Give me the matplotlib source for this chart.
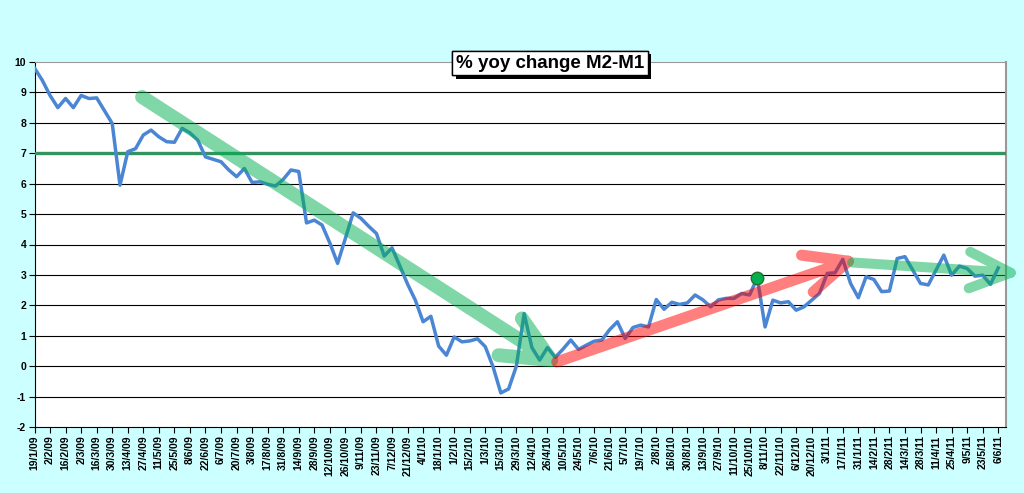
import numpy as np
import pandas as pd
import matplotlib.pyplot as plt
import matplotlib.patheffects as pe

plt.rcParams['font.family'] = ['Liberation Sans', 'DejaVu Sans']
plt.rcParams['axes.unicode_minus'] = False

# weekly % yoy change of M2-M1, from 19/1/09
start_date = '2009-01-19'
values = [9.8, 9.4, 8.9, 8.5, 8.8, 8.5, 8.9, 8.8, 8.82, 8.4,
          7.98, 5.95, 7.05, 7.15, 7.6, 7.76, 7.54, 7.38, 7.36, 7.82,
          7.67, 7.43, 6.88, 6.8, 6.72, 6.45, 6.23, 6.5, 6.04, 6.06,
          5.98, 5.92, 6.14, 6.45, 6.4, 4.71, 4.8, 4.64, 4.05, 3.38,
          4.2, 5.04, 4.86, 4.6, 4.36, 3.62, 3.89, 3.3, 2.7, 2.17,
          1.46, 1.64, 0.66, 0.36, 0.96, 0.8, 0.83, 0.9, 0.64, -0.02,
          -0.88, -0.75, 0.0, 1.73, 0.61, 0.2, 0.61, 0.29, 0.56, 0.86,
          0.55, 0.69, 0.82, 0.86, 1.2, 1.46, 0.91, 1.27, 1.35, 1.29,
          2.19, 1.87, 2.1, 2.03, 2.08, 2.34, 2.18, 1.95, 2.18, 2.23,
          2.23, 2.39, 2.34, 2.9, 1.29, 2.17, 2.08, 2.12, 1.84, 1.95,
          2.17, 2.39, 3.05, 3.07, 3.51, 2.72, 2.25, 2.94, 2.85, 2.45,
          2.47, 3.54, 3.6, 3.16, 2.72, 2.67, 3.16, 3.65, 2.99, 3.29,
          3.21, 2.96, 2.99, 2.69, 3.23]
threshold = 7
marked_week = 93

# trend arrows: tail, tip, two barb ends (week index, value)
arrows = [
    ((13.84, 8.85), (66.47, 0.2), (62.7, 1.57), (59.7, 0.36), '#00b050', 10),
    ((67.2, 0.14), (104.7, 3.45), (98.7, 3.65), (100.2, 2.44), '#ff0000', 8),
    ((105.2, 3.41), (125.6, 3.07), (120.4, 3.76), (120.2, 2.56), '#00b050', 7.2),
]

n = len(values)
x = np.arange(n)
dates = pd.date_range(start_date, periods=n, freq='7D')
tick_pos = x[::2]
tick_labels = [f"{d.day}/{d.month}/{d.strftime('%y')}" for d in dates[::2]]

fig = plt.figure(figsize=(10.24, 4.93), dpi=100, facecolor='#ccffff')
ax = fig.add_axes([34.5 / 1024, 66 / 493, 971.5 / 1024, 365 / 493])
ax.set_facecolor('white')

for yv in range(-1, 10):
    ax.axhline(yv, color='black', lw=0.8, zorder=1)

ax.axhline(threshold, color='#33935f', lw=2.4, zorder=3)
ax.plot(x, values, color='#4a86d4', lw=2.5, zorder=4)

for tail, tip, b1, b2, col, lw in arrows:
    xs = [tail[0], tip[0], b1[0], np.nan, tip[0], b2[0]]
    ys = [tail[1], tip[1], b1[1], np.nan, tip[1], b2[1]]
    ax.plot(xs, ys, color=col, alpha=0.5, lw=lw, solid_capstyle='round',
            solid_joinstyle='round', zorder=5, clip_on=False)

ax.plot(x[marked_week], values[marked_week], 'o', color='#00b050',
        markeredgecolor='#2a6e2a', markersize=9, zorder=6)

ax.set_xlim(0, 125)
ax.set_ylim(-2, 10)
ax.set_yticks(range(-2, 11))
ax.set_xticks(tick_pos)
ax.set_xticklabels(tick_labels, rotation=90, fontsize=7.5, fontweight='bold')
for lab in ax.get_yticklabels():
    lab.set_fontweight('bold')
ax.tick_params(axis='y', labelsize=7.5, length=4, width=0.8, pad=2)
ax.tick_params(axis='x', length=4, width=0.8, pad=2)

ax.spines['left'].set_color('black')
ax.spines['bottom'].set_color('black')
ax.spines['top'].set_color('#999999')
ax.spines['right'].set_color('#999999')
ax.spines['right'].set_linewidth(1.5)

t = fig.text(550 / 1024, 1 - 63 / 493, '% yoy change M2-M1', fontsize=13.5,
             fontweight='bold', ha='center', va='center', zorder=10,
             bbox=dict(boxstyle='square,pad=0.2', fc='white', ec='black', lw=1))
t.get_bbox_patch().set_path_effects([
    pe.withSimplePatchShadow(offset=(2.5, -2.5), shadow_rgbFace='black', alpha=1),
    pe.Normal()])

fig.savefig('out.png', dpi=100, facecolor=fig.get_facecolor())
